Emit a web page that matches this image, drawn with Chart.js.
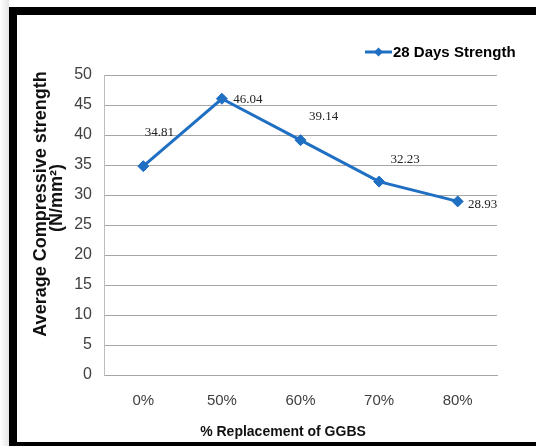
<!DOCTYPE html>
<html>
<head>
<meta charset="utf-8">
<script src="https://cdn.jsdelivr.net/npm/chart.js@4"></script>
<style>
  html, body { margin: 0; padding: 0; background: #ffffff; width: 536px; height: 446px; overflow: hidden; }
  #shade { position: absolute; left: 0; top: 0; width: 9px; height: 446px; background: linear-gradient(to right, #ffffff, #e6e6e6); }
  #frame { position: absolute; left: 9px; top: 7px; width: 527px; height: 439px; box-sizing: border-box;
           border-left: 8px solid #000; border-top: 8px solid #000; border-bottom: 4px solid #000; background: #fff; }
  #c { position: absolute; left: 0; top: 0; }
</style>
</head>
<body>
<div id="shade"></div>
<div id="frame"></div>
<canvas id="c" width="536" height="446"></canvas>
<script>
// ---- data ----
const categories = ['0%', '50%', '60%', '70%', '80%'];
const strength28 = [34.81, 46.04, 39.14, 32.23, 28.93];
const seriesLabel = '28 Days Strength';
const yTitleLines = ['Average Compressive strength', '(N/mm\u00B2)'];
const xTitle = '% Replacement of GGBS';
const yMin = 0, yMax = 50, yStep = 5;

const blue = '#1f6fc3';
const sans = "'Liberation Sans', Arial, sans-serif";
const serif = "'Liberation Serif', 'Times New Roman', serif";

// label offsets (styling only) relative to each point
const labelOffsets = [[16, -34], [26, 1], [23, -24], [26, -22], [25, 3]];

const extras = {
  id: 'extras',
  afterDatasetsDraw(chart) {
    const ctx = chart.ctx;
    const meta = chart.getDatasetMeta(0);
    const ds = chart.data.datasets[0];
    ctx.save();
    // data labels
    ctx.font = '13px ' + serif;
    ctx.fillStyle = '#222';
    ctx.textAlign = 'center';
    ctx.textBaseline = 'middle';
    meta.data.forEach((pt, i) => {
      const o = labelOffsets[i] || [0, -12];
      ctx.fillText(ds.data[i].toFixed(2), pt.x + o[0], pt.y + o[1]);
    });
    // legend
    const ly = 52;
    ctx.strokeStyle = blue;
    ctx.lineWidth = 3;
    ctx.beginPath(); ctx.moveTo(365, ly); ctx.lineTo(392, ly); ctx.stroke();
    ctx.fillStyle = blue;
    ctx.beginPath();
    ctx.moveTo(378.5, ly - 4.5); ctx.lineTo(383, ly); ctx.lineTo(378.5, ly + 4.5); ctx.lineTo(374, ly); ctx.closePath(); ctx.fill();
    ctx.fillStyle = '#000';
    ctx.font = 'bold 15px ' + sans;
    ctx.textAlign = 'left';
    ctx.fillText(ds.label, 393, ly + 1);
    // x title
    ctx.font = 'bold 14px ' + sans;
    ctx.textAlign = 'center';
    ctx.fillStyle = '#111';
    ctx.fillText(xTitle, 283, 432);
    // y title
    ctx.translate(41, 204);
    ctx.rotate(-Math.PI / 2);
    ctx.font = 'bold 18px ' + sans;
    ctx.fillText(yTitleLines[0], 0, 0);
    ctx.fillText(yTitleLines[1], 6, 16);
    ctx.restore();
  }
};

new Chart(document.getElementById('c'), {
  type: 'line',
  data: {
    labels: categories,
    datasets: [{
      label: seriesLabel,
      data: strength28,
      borderColor: blue,
      backgroundColor: blue,
      borderWidth: 3,
      pointStyle: 'rectRot',
      pointRadius: 5.5,
      pointHoverRadius: 5.5,
      pointBackgroundColor: blue,
      pointBorderColor: blue,
      pointBorderWidth: 1,
      tension: 0,
      fill: false
    }]
  },
  options: {
    responsive: false,
    animation: false,
    events: [],
    layout: { padding: { left: 20, right: 39, top: 75, bottom: 4 } },
    plugins: { legend: { display: false }, tooltip: { enabled: false } },
    scales: {
      x: {
        offset: true,
        grid: { display: false, drawTicks: false },
        border: { display: true, color: '#a6a6a6', width: 1 },
        ticks: { color: '#404040', font: { family: sans, size: 15 }, padding: 17, maxRotation: 0 },
        afterFit(scale) { scale.height = 67; }
      },
      y: {
        min: yMin, max: yMax,
        ticks: { stepSize: yStep, color: '#404040', font: { family: sans, size: 16 }, padding: 12 },
        grid: { color: '#a6a6a6', lineWidth: 1, drawTicks: false },
        border: { display: true, color: '#bdbdbd', width: 1 },
        afterFit(scale) { scale.width = 84; }
      }
    }
  },
  plugins: [extras]
});
</script>
</body>
</html>
